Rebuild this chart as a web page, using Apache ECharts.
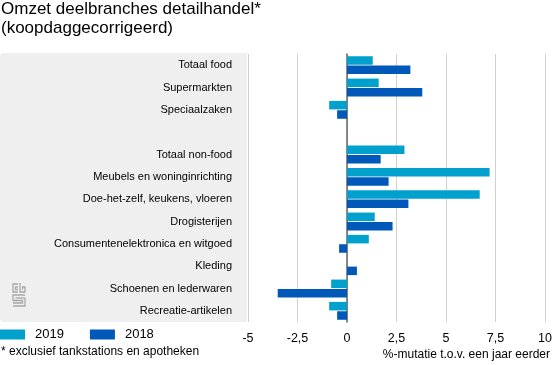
<!DOCTYPE html>
<html>
<head>
<meta charset="utf-8">
<script src="https://cdn.jsdelivr.net/npm/echarts@6/dist/echarts.min.js"></script>
<style>
html,body{margin:0;padding:0;background:#fff;}
#chart{width:555px;height:365px;}
</style>
</head>
<body>
<div id="chart"></div>
<script>
var categories = ["Totaal food","Supermarkten","Speciaalzaken","","Totaal non-food","Meubels en woninginrichting","Doe-het-zelf, keukens, vloeren","Drogisterijen","Consumentenelektronica en witgoed","Kleding","Schoenen en lederwaren","Recreatie-artikelen"];
var values2019 = [1.3, 1.6, -0.9, null, 2.9, 7.2, 6.7, 1.4, 1.1, 0, -0.8, -0.9];
var values2018 = [3.2, 3.8, -0.5, null, 1.7, 2.1, 3.1, 2.3, -0.4, 0.5, -3.5, -0.5];
var xTicks = [-5, -2.5, 0, 2.5, 5, 7.5, 10];

var FONT = '"Liberation Sans", Arial, Helvetica, sans-serif';
var chart = echarts.init(document.getElementById('chart'));
chart.setOption({
  animation: false,
  textStyle: {fontFamily: FONT},
  title: {
    text: 'Omzet deelbranches detailhandel*\n(koopdaggecorrigeerd)',
    left: 1, top: 0, padding: 0,
    textStyle: {fontSize: 17, fontWeight: 'normal', color: '#000', lineHeight: 19, fontFamily: FONT}
  },
  legend: {
    left: 0, top: 328, padding: 0,
    itemWidth: 25, itemHeight: 10, itemGap: 26,
    icon: 'rect',
    textStyle: {fontSize: 13, color: '#000', fontFamily: FONT, padding: [0,0,0,5]},
    data: ['2019', '2018']
  },
  grid: {left: 248, right: 7, top: 54, bottom: 43, containLabel: false},
  xAxis: {
    type: 'value', min: xTicks[0], max: xTicks[xTicks.length-1], interval: 2.5,
    axisLine: {show: false}, axisTick: {show: false},
    axisLabel: {fontSize: 12.5, color: '#000', margin: 10, fontFamily: FONT,
      formatter: function(v){ return String(v).replace('.', ','); }},
    splitLine: {show: true, lineStyle: {color: '#d0d0d0', width: 1}}
  },
  yAxis: {
    type: 'category', data: categories, inverse: true,
    axisLine: {show: true, lineStyle: {color: '#666', width: 1.5}},
    axisTick: {show: false},
    axisLabel: {fontSize: 11, color: '#000', margin: 16, fontFamily: FONT}
  },
  graphic: [
    {type: 'rect', z: -10, shape: {x: 0, y: 53, width: 247, height: 269, r: [4,0,0,4]}, style: {fill: '#efefef'}},
    {type: 'group', z: -5, children: [
      {type: 'polyline', shape: {points: [[18,284],[13,284],[13,292],[18,292]]}, style: {stroke: '#a8a8a8', lineWidth: 1.3, fill: null}},
      {type: 'polyline', shape: {points: [[18,287],[15.5,287],[15.5,289.5],[18,289.5]]}, style: {stroke: '#a8a8a8', lineWidth: 1.3, fill: null}},
      {type: 'polyline', shape: {points: [[20,283],[20,292],[25,292],[25,287],[22.5,287],[22.5,289.5]]}, style: {stroke: '#a8a8a8', lineWidth: 1.3, fill: null}},
      {type: 'polyline', shape: {points: [[25,295],[13,295],[13,300.5],[22.5,300.5],[22.5,303],[13,303]]}, style: {stroke: '#a8a8a8', lineWidth: 1.3, fill: null}},
      {type: 'polyline', shape: {points: [[25,298],[15.5,298],[15.5,298]]}, style: {stroke: '#a8a8a8', lineWidth: 1.3, fill: null}},
      {type: 'polyline', shape: {points: [[25,298],[25,306],[13,306]]}, style: {stroke: '#a8a8a8', lineWidth: 1.3, fill: null}}
    ]},
    {type: 'text', left: 1, top: 346, style: {text: '* exclusief tankstations en apotheken', fontSize: 12, fill: '#000', fontFamily: FONT}},
    {type: 'text', right: 5, top: 349, style: {text: '%-mutatie t.o.v. een jaar eerder', fontSize: 12, fill: '#000', fontFamily: FONT}}
  ],
  series: [
    {name: '2019', type: 'bar', data: values2019, barWidth: 8.5, barGap: '10%', itemStyle: {color: '#00a1cd'}},
    {name: '2018', type: 'bar', data: values2018, barWidth: 8.5, barGap: '10%', itemStyle: {color: '#0058b8'}}
  ]
});
</script>
</body>
</html>
